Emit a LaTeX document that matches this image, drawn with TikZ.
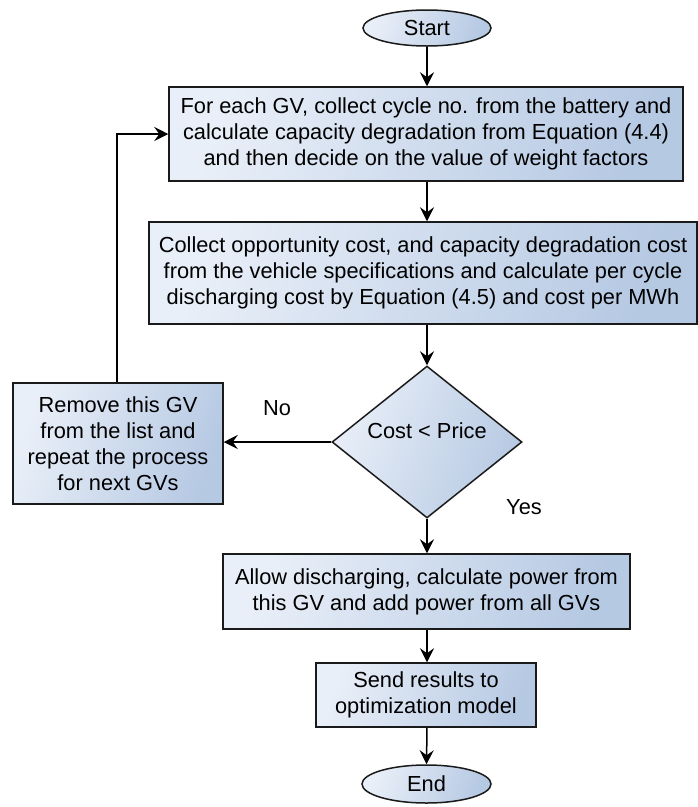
\documentclass[tikz,border=0pt]{standalone}
\usepackage{fontspec}
\setmainfont{Liberation Sans}
\usetikzlibrary{shapes.geometric,arrows.meta}
\definecolor{gradA}{HTML}{E9EFF8}
\definecolor{gradB}{HTML}{B6C9E3}
\definecolor{edgec}{HTML}{1A1A1A}
\begin{document}
\begin{tikzpicture}[x=1pt,y=-1pt,
  every node/.style={font=\fontsize{21.8}{26}\selectfont, inner sep=0pt, align=center},
  shaded/.style={draw=edgec, line width=1.5pt, left color=gradA, right color=gradB, shading angle=70},
  procbox/.style={shaded, rectangle},
  termnode/.style={shaded, ellipse},
  decnode/.style={shaded, diamond},
  flow/.style={draw=black, line width=1.5pt, -{Stealth[length=14pt,width=14pt,inset=5pt]}},
  lbl/.style={font=\fontsize{21.8}{26}\selectfont}
]
\useasboundingbox (0,0) rectangle (698,807);

\node[termnode, minimum width=128pt, minimum height=36pt] (start) at (427,28) {Start};
\node[procbox, minimum width=514pt, minimum height=94pt] (box1) at (426,134)
  {For each GV, collect cycle no. from the battery and\\calculate capacity degradation from Equation (4.4)\\and then decide on the value of weight factors};
\node[procbox, minimum width=548pt, minimum height=102pt] (box2) at (423,273)
  {Collect opportunity cost, and capacity degradation cost\\from the vehicle specifications and calculate per cycle\\discharging cost by Equation (4.5) and cost per MWh};
\node[decnode, minimum width=190pt, minimum height=152pt] (dia) at (427,442) {};
\node (dtext) at (427,431) {Cost < Price};
\node[procbox, minimum width=210pt, minimum height=121pt] (remove) at (118,443.5)
  {Remove this GV\\from the list and\\repeat the process\\for next GVs};
\node[procbox, minimum width=407pt, minimum height=75pt] (allow) at (426.5,591.5)
  {Allow discharging, calculate power from\\this GV and add power from all GVs};
\node[procbox, minimum width=220pt, minimum height=64pt] (send) at (426,695)
  {Send results to\\optimization model};
\node[termnode, minimum width=129pt, minimum height=38pt] (end) at (426.5,784) {End};

\node[lbl] (nolbl) at (277,408) {No};
\node[lbl] (yeslbl) at (524,507) {Yes};

\draw[flow] (start.south) -- (start.south |- box1.north);
\draw[flow] (start.south |- box1.south) -- (start.south |- box2.north);
\draw[flow] (start.south |- box2.south) -- (dia.north);
\draw[flow] (dia.south) -- (dia.south |- allow.north);
\draw[flow] (dia.west) -- (remove.east |- dia.west);
\draw[flow] (remove.north -| 117,0) -- (117,0 |- box1.west) -- (box1.west);
\draw[flow] (start.south |- allow.south) -- (start.south |- send.north);
\draw[flow] (start.south |- send.south) -- (end.north);
\end{tikzpicture}
\end{document}
